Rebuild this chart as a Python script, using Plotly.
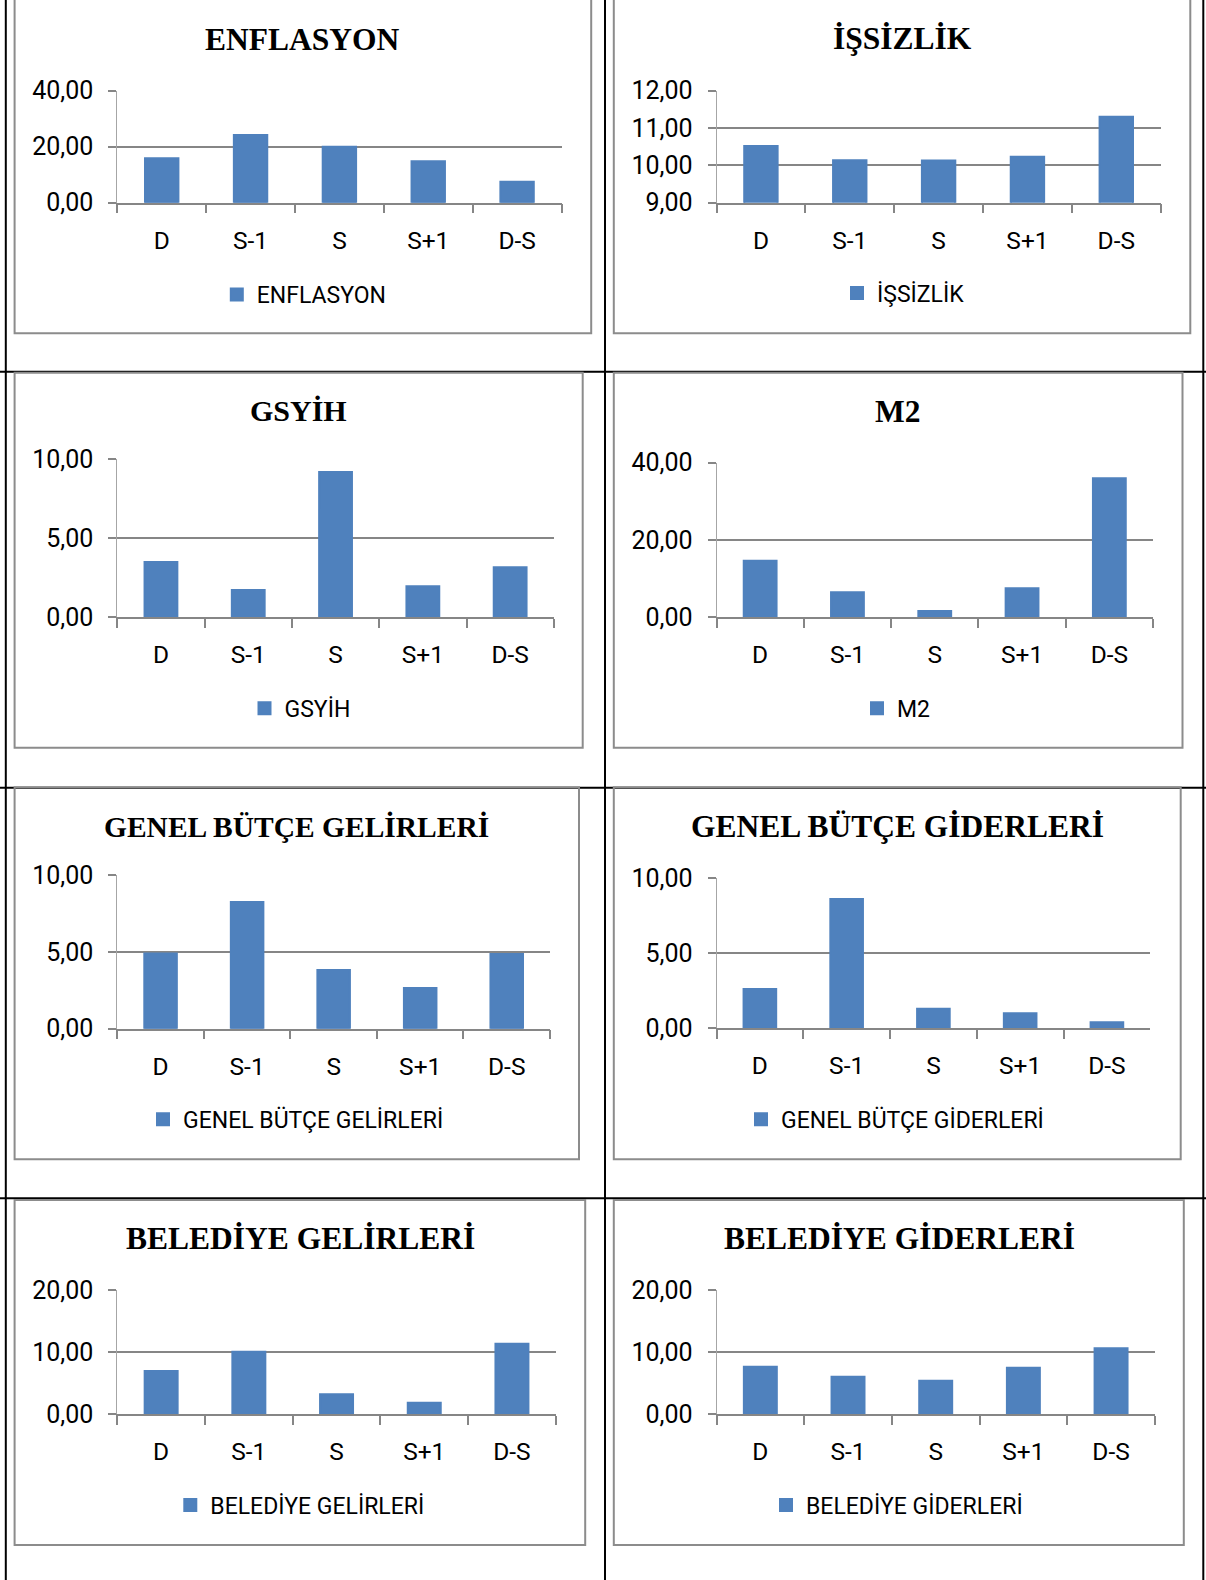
import plotly.graph_objects as go

# ---- data -------------------------------------------------------------
categories = ["D", "S-1", "S", "S+1", "D-S"]

enflasyon = [15.9, 24.2, 20.0, 14.8, 7.5]
issizlik = [10.52, 10.14, 10.13, 10.23, 11.30]
gsyih = [3.49, 1.71, 9.19, 1.95, 3.15]
m2 = [14.6, 6.4, 1.55, 7.43, 36.0]
genel_butce_gelirleri = [4.90, 8.24, 3.82, 2.65, 4.86]
genel_butce_giderleri = [2.62, 8.62, 1.31, 1.00, 0.40]
belediye_gelirleri = [6.94, 10.05, 3.17, 1.83, 11.34]
belediye_giderleri = [7.63, 6.02, 5.37, 7.47, 10.60]

titles = ["ENFLASYON", "İŞSİZLİK", "GSYİH", "M2",
          "GENEL BÜTÇE GELİRLERİ", "GENEL BÜTÇE GİDERLERİ",
          "BELEDİYE GELİRLERİ", "BELEDİYE GİDERLERİ"]
series = [enflasyon, issizlik, gsyih, m2,
          genel_butce_gelirleri, genel_butce_giderleri,
          belediye_gelirleri, belediye_giderleri]
y_ranges = [(0, 40), (9, 12), (0, 10), (0, 40), (0, 10), (0, 10), (0, 20), (0, 20)]
y_steps = [20, 1, 5, 20, 5, 5, 10, 10]

# ---- page geometry (pixels) ----------------------------------------------
W, H = 1206, 1580

# chart frame boxes: left, top, right, bottom
frames = [
    (14.6, -3, 591.2, 333.3), (613.8, -3, 1190.3, 333.3),
    (14.6, 372.7, 582.7, 747.7), (613.8, 372.7, 1182.5, 747.7),
    (14.6, 787.3, 579.0, 1159.3), (613.8, 787.3, 1180.7, 1159.3),
    (14.6, 1200.0, 585.2, 1545.0), (613.8, 1200.0, 1183.8, 1545.0),
]
# plot areas: left, top, right, bottom
plots = [
    (117.3, 90.7, 561.5, 202.7), (716.5, 90.7, 1160.7, 202.7),
    (117.3, 459.3, 553.8, 617.0), (716.5, 462.7, 1153.0, 617.0),
    (117.3, 875.0, 550.0, 1028.7), (716.5, 878.3, 1150.3, 1028.3),
    (117.3, 1290.0, 555.8, 1414.0), (716.5, 1290.0, 1154.9, 1414.0),
]
title_pos = [(302, 39.3), (902.2, 38.3), (298, 410.7), (897.2, 411.7),
             (296.2, 826.7), (897.2, 826.7), (300, 1238.3), (899.2, 1238.3)]
title_sizes = [31.5, 31.5, 30, 31.5, 29.5, 31.5, 31.5, 31.5]
legend_text_x = [255.8, 876.0, 283.5, 896.0, 182.0, 780.0, 209.3, 805.0]
legend_y = [294.5, 293.0, 708.3, 708.3, 1119.3, 1119.3, 1505.0, 1505.0]

BAR = "#4F81BD"
GRID = "#868686"


def fx(x):
    return x / W


def fy(y):
    return 1 - y / H


fig = go.Figure()
layout = dict(
    width=W, height=H,
    margin=dict(l=0, r=0, t=0, b=0, pad=0, autoexpand=False),
    paper_bgcolor="white", plot_bgcolor="white",
    separators=",.",
    bargap=0.624,
    showlegend=True,
    font=dict(family="Roboto", color="black"),
)
annotations = []
shapes = []

# table rules
table_lines = [
    (5.8, 0, 5.8, H), (605, 0, 605, H), (1203.3, 0, 1203.3, H),
    (0, 371.7, W, 371.7), (0, 787.7, W, 787.7), (0, 1198.3, W, 1198.3),
]
for x0, y0, x1, y1 in table_lines:
    shapes.append(dict(type="line", xref="paper", yref="paper",
                       x0=fx(x0), y0=fy(y0), x1=fx(x1), y1=fy(y1),
                       line=dict(color="black", width=2)))

for i in range(8):
    n = i + 1
    sfx = "" if n == 1 else str(n)
    fl, ft, fr, fb = frames[i]
    shapes.append(dict(type="rect", xref="paper", yref="paper",
                       x0=fx(fl), y0=fy(fb), x1=fx(fr), y1=fy(ft),
                       line=dict(color="#8c8c8c", width=2), fillcolor="rgba(0,0,0,0)"))

    pl, pt, pr, pb = plots[i]
    leg = "legend" + sfx
    fig.add_trace(go.Bar(
        x=categories, y=series[i], name=titles[i],
        marker=dict(color=BAR, line=dict(width=2, color=BAR)),
        xaxis="x" + sfx, yaxis="y" + sfx, legend=leg, showlegend=True,
    ))

    layout["xaxis" + sfx] = dict(
        domain=[fx(pl), fx(pr)], anchor="y" + sfx,
        type="category", range=[-0.5, 4.5],
        categoryorder="array", categoryarray=categories,
        tickson="boundaries", ticks="outside", ticklen=9,
        tickcolor=GRID, tickwidth=1.5,
        showline=True, linecolor=GRID, linewidth=1.5,
        showgrid=False, zeroline=False, automargin=False,
        tickfont=dict(family="Roboto", size=24.5, color="black"),
        ticklabelstandoff=15, fixedrange=True,
    )
    lo, hi = y_ranges[i]
    layout["yaxis" + sfx] = dict(
        domain=[fy(pb), fy(pt)], anchor="x" + sfx,
        range=[lo, hi], dtick=y_steps[i], tick0=lo,
        tickformat=".2f",
        ticks="outside", ticklen=8, tickcolor=GRID, tickwidth=1.5,
        showline=True, linecolor="#a6a6a6", linewidth=1,
        showgrid=True, gridcolor=GRID, gridwidth=1.5,
        zeroline=False, automargin=False,
        tickfont=dict(family="Roboto", size=25, color="black"),
        ticklabelstandoff=10, fixedrange=True,
    )
    layout[leg] = dict(
        x=fx(legend_text_x[i] - 39), y=fy(legend_y[i]),
        xanchor="left", yanchor="middle",
        bgcolor="rgba(0,0,0,0)", borderwidth=0,
        font=dict(family="Roboto", size=23, color="black"),
    )

    tx, ty = title_pos[i]
    annotations.append(dict(
        text="<b>" + titles[i] + "</b>", xref="paper", yref="paper",
        x=fx(tx), y=fy(ty), xanchor="center", yanchor="middle",
        showarrow=False,
        font=dict(family="Liberation Serif", size=title_sizes[i], color="black"),
    ))

layout["annotations"] = annotations
layout["shapes"] = shapes
fig.update_layout(**layout)

fig.write_html("out.html")
